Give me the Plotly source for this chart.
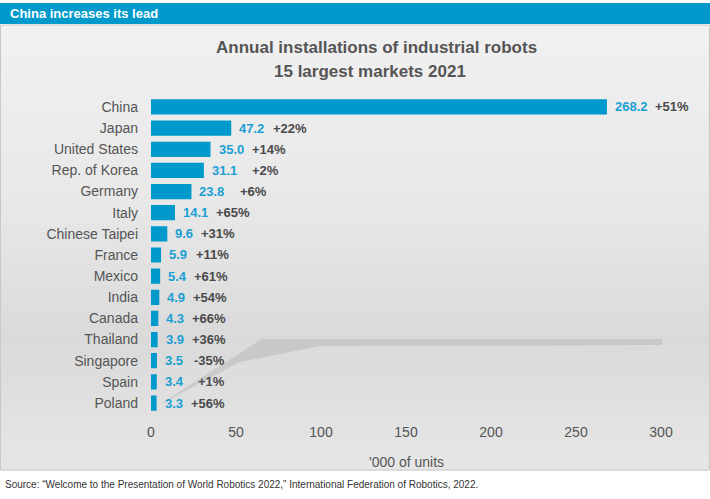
import plotly.graph_objects as go

countries = ["China", "Japan", "United States", "Rep. of Korea", "Germany", "Italy",
             "Chinese Taipei", "France", "Mexico", "India", "Canada", "Thailand",
             "Singapore", "Spain", "Poland"]
installs = [268.2, 47.2, 35.0, 31.1, 23.8, 14.1, 9.6, 5.9, 5.4, 4.9, 4.3, 3.9, 3.5, 3.4, 3.3]
growth = ["+51%", "+22%", "+14%", "+2%", "+6%", "+65%", "+31%", "+11%", "+61%",
          "+54%", "+66%", "+36%", "-35%", "+1%", "+56%"]
x_ticks = [0, 50, 100, 150, 200, 250, 300]

W, H = 710, 499
FONT = "Liberation Sans, Arial, sans-serif"
GREY = "#555555"
BLUE = "#0099cc"
LBL_BLUE = "#1a9fd4"

def px(x):
    return x / W

def py(y):
    return 1 - y / H

fig = go.Figure()
fig.add_trace(go.Bar(
    x=installs, y=countries, orientation="h",
    marker=dict(color=BLUE, line=dict(width=0)),
    width=0.72, hoverinfo="skip",
))

shapes = []
# gradient background of the chart panel
top, bot = 25, 470
stops = [(25, (241, 241, 241)), (200, (232, 232, 232)), (340, (218, 218, 218)), (470, (230, 230, 230))]
n = 60
for i in range(n):
    y0 = top + (bot - top) * i / n
    y1 = top + (bot - top) * (i + 1) / n
    yc = (y0 + y1) / 2
    for (a, ca), (b, cb) in zip(stops[:-1], stops[1:]):
        if a <= yc <= b:
            t = (yc - a) / (b - a)
            c = tuple(round(ca[k] + (cb[k] - ca[k]) * t) for k in range(3))
            break
    shapes.append(dict(type="rect", xref="paper", yref="paper", layer="below",
                       x0=px(1), x1=px(709), y0=py(y1 + 0.5), y1=py(y0),
                       fillcolor="rgb(%d,%d,%d)" % c, line=dict(width=0)))
shapes.append(dict(type="rect", xref="paper", yref="paper", layer="below",
                   x0=px(0.5), x1=px(709.5), y0=py(bot), y1=py(top),
                   fillcolor="rgba(0,0,0,0)", line=dict(color="#c8c8c8", width=1)))
# header bar
shapes.append(dict(type="rect", xref="paper", yref="paper", layer="below",
                   x0=0, x1=1, y0=py(24), y1=py(3),
                   fillcolor=BLUE, line=dict(width=0)))
# decorative shadow streak
shapes.append(dict(type="path", xref="paper", yref="paper", layer="below",
                   path="M %f,%f L %f,%f L %f,%f L %f,%f L %f,%f L %f,%f Z" % (
                       px(157), py(406), px(262), py(339), px(662), py(339),
                       px(662), py(345), px(320), py(346), px(240), py(362)),
                   fillcolor="rgba(165,165,165,0.35)", line=dict(width=0)))

annotations = [
    dict(text="<b>China increases its lead</b>", x=px(8), y=py(13.5), xref="paper", yref="paper",
         xanchor="left", yanchor="middle", showarrow=False,
         font=dict(family=FONT, size=13, color="white")),
    dict(text="<b>Annual installations of industrial robots</b>", x=px(376), y=py(48),
         xref="paper", yref="paper", xanchor="center", yanchor="middle", showarrow=False,
         font=dict(family=FONT, size=17, color=GREY)),
    dict(text="<b>15 largest markets 2021</b>", x=px(370), y=py(71),
         xref="paper", yref="paper", xanchor="center", yanchor="middle", showarrow=False,
         font=dict(family=FONT, size=17, color=GREY)),
    dict(text="'000 of units", x=px(406), y=py(462), xref="paper", yref="paper",
         xanchor="center", yanchor="middle", showarrow=False,
         font=dict(family=FONT, size=14, color=GREY)),
    dict(text="Source: \u201cWelcome to the Presentation of World Robotics 2022,\u201d International Federation of Robotics, 2022.",
         x=px(3), y=py(484), xref="paper", yref="paper", xanchor="left", yanchor="middle",
         showarrow=False,
         font=dict(family="Liberation Sans Narrow, Liberation Sans, sans-serif", size=10, color="#333333")),
]

VFS = 13
def text_w(s):
    return sum(0.278 * VFS if ch == "." else 0.556 * VFS for ch in s)

for c, v, g in zip(countries, installs, growth):
    vs = "%.1f" % v
    annotations.append(dict(text="<b>%s</b>" % vs, x=v, y=c, xref="x", yref="y",
                            xanchor="left", yanchor="middle", xshift=6, showarrow=False,
                            font=dict(family=FONT, size=VFS, color=LBL_BLUE)))
    annotations.append(dict(text="<b>%s</b>" % g, x=v, y=c, xref="x", yref="y",
                            xanchor="right", yanchor="middle",
                            xshift=6 + text_w(vs) + 46, showarrow=False,
                            font=dict(family=FONT, size=VFS, color="#4a4a4a")))

fig.update_layout(
    width=W, height=H,
    margin=dict(l=0, r=0, t=0, b=0),
    paper_bgcolor="white", plot_bgcolor="rgba(0,0,0,0)",
    showlegend=False,
    bargap=0.28,
    xaxis=dict(domain=[151 / W, 661 / W], range=[0, 300], tickvals=x_ticks,
               ticktext=[str(t) for t in x_ticks], showgrid=False, zeroline=False,
               showline=False, ticks="", ticklabelstandoff=8, automargin=False,
               tickfont=dict(family=FONT, size=14, color=GREY)),
    yaxis=dict(domain=[(H - 413.6) / H, (H - 96.4) / H], categoryorder="array",
               categoryarray=countries, autorange="reversed", showgrid=False,
               zeroline=False, showline=False, ticks="", ticklabelstandoff=12,
               automargin=False, tickfont=dict(family=FONT, size=14, color=GREY)),
    shapes=shapes,
    annotations=annotations,
)

fig.write_html("out.html", config={"displayModeBar": False},
               post_script="document.body.style.margin='0';document.body.style.overflow='hidden';")
